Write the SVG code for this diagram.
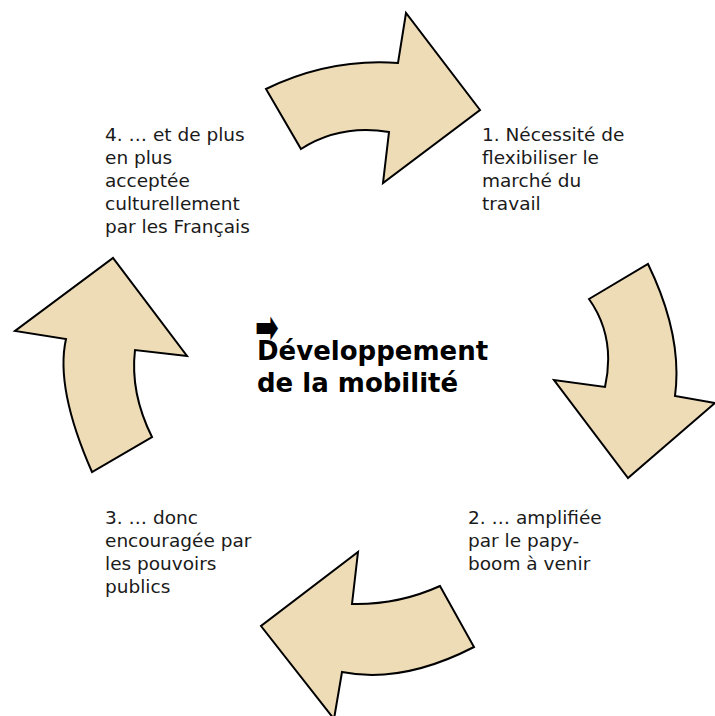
<svg xmlns="http://www.w3.org/2000/svg" width="715" height="716" viewBox="0 0 715 716">
<style>
.arrow{fill:#EEDCB7;stroke:#000;stroke-width:2;stroke-linejoin:miter}
.lbl{font-family:"DejaVu Sans",Verdana,sans-serif;font-size:18.5px;fill:#1a1a1a}
.title{font-family:"DejaVu Sans",Verdana,sans-serif;font-size:26px;font-weight:bold;fill:#000}
</style>
<rect width="715" height="716" fill="#fff"/>
<g id="connectors">
<path class="arrow" d="M266,89 Q330,58 398,63 L406,13 L480,110 L383,183 L389,132 Q340,124 301,149 Z"/>
<path class="arrow" d="M589,299 L648,264 Q683,336 675,396 L715,403 L628,478 L554,380 L605,387 Q616,337 589,299 Z"/>
<path class="arrow" d="M474,647 Q402,684 342,672 L334,719 L261,626 L358,552 L352,604 Q398,605 440,586 Z"/>
<path class="arrow" d="M92,472 Q55,388 66,339 L15,331 L113,258 L187,356 L135,350 Q130,393 152,437 Z"/>
</g>
<g id="step1">
<text class="lbl"><tspan x="482" y="141">1. Nécessité de</tspan><tspan x="482" y="164">flexibiliser le</tspan><tspan x="482" y="187">marché du</tspan><tspan x="482" y="210">travail</tspan></text>
</g>
<g id="step2">
<text class="lbl"><tspan x="468" y="524">2. … amplifiée</tspan><tspan x="468" y="547">par le papy-</tspan><tspan x="468" y="570">boom à venir</tspan></text>
</g>
<g id="step3">
<text class="lbl"><tspan x="105" y="524">3. … donc</tspan><tspan x="105" y="547">encouragée par</tspan><tspan x="105" y="570">les pouvoirs</tspan><tspan x="105" y="593">publics</tspan></text>
</g>
<g id="step4">
<text class="lbl"><tspan x="105" y="141">4. … et de plus</tspan><tspan x="105" y="164">en plus</tspan><tspan x="105" y="187">acceptée</tspan><tspan x="105" y="210">culturellement</tspan><tspan x="105" y="233">par les Français</tspan></text>
</g>
<g id="center">
<text transform="translate(255,342) scale(1.35,2.1)" style="font-family:'DejaVu Sans',sans-serif;font-size:21px;font-weight:bold;fill:#000">➡</text>
<text class="title"><tspan x="257" y="360">Développement</tspan><tspan x="257" y="392">de la mobilité</tspan></text>
</g>
</svg>
